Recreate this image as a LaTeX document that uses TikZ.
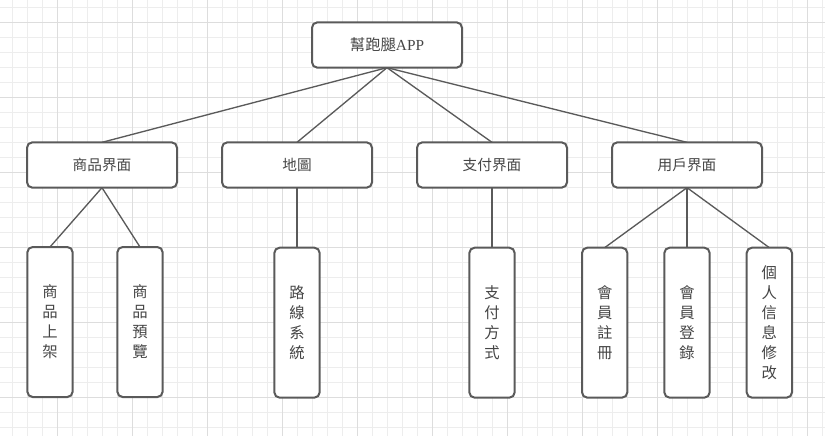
\documentclass[tikz,border=0pt]{standalone}
\usepackage{fontspec}
\setmainfont{Liberation Serif}
\newfontfamily\cjk{Noto Sans CJK TC}
\usetikzlibrary{positioning}
\definecolor{boxline}{HTML}{5A5A5A}
\definecolor{txt}{HTML}{454545}
\definecolor{gridminor}{HTML}{EDEDED}
\definecolor{gridmajor}{HTML}{DDDDDD}

\begin{document}
\begin{tikzpicture}[x=0.75pt, y=-0.75pt,
    box/.style={draw=boxline, line width=1.5pt, rounded corners=4pt, fill=white, inner sep=0pt, outer sep=0pt, text=txt},
    midbox/.style={box, minimum width=112.5pt, minimum height=34pt, font=\cjk\fontsize{11}{13}\selectfont},
    leafbox/.style={box, minimum width=34pt, minimum height=112.5pt, align=center, font=\cjk\fontsize{11.5}{15}\selectfont},
    link/.style={draw=boxline, line width=1pt}]
  \useasboundingbox (0,0) rectangle (825,436);
  % grid paper
  \foreach \gx in {12.5,27.5,...,822.5} \draw[gridminor, line width=0.75pt] (\gx,0) -- (\gx,436);
  \foreach \gy in {7,22,...,436} \draw[gridminor, line width=0.75pt] (0,\gy) -- (825,\gy);
  \foreach \gx in {57.5,132.5,...,822.5} \draw[gridmajor, line width=0.75pt] (\gx,0) -- (\gx,436);
  \foreach \gy in {22,97,...,436} \draw[gridmajor, line width=0.75pt] (0,\gy) -- (825,\gy);

  % root
  \node[midbox, font=\fontsize{11.5}{13}\selectfont] (app) at (387,45) {{\cjk 幫跑腿}APP};

  % second level
  \node[midbox] (shop) at (102,165) {商品界面};
  \node[midbox, right=33.75pt of shop] (map) {地圖};
  \node[midbox, right=33.75pt of map] (pay) {支付界面};
  \node[midbox, right=33.75pt of pay] (user) {用戶界面};

  % leaves
  \node[leafbox] (upload) at (50,322) {商\\品\\上\\架};
  \node[leafbox] (preview) at (140,322) {商\\品\\預\\覽};
  \node[leafbox, below=45pt of map] (route) {路\\線\\系\\統};
  \node[leafbox, below=45pt of pay] (method) {支\\付\\方\\式};
  \node[leafbox, below=45pt of user] (login) {會\\員\\登\\錄};
  \node[leafbox, left=27.75pt of login] (register) {會\\員\\註\\冊};
  \node[leafbox, right=27.75pt of login] (profile) {個\\人\\信\\息\\修\\改};

  % connectors
  \foreach \m in {shop,map,pay,user}
    \draw[link] (app.south) -- (\m.north);
  \foreach \l in {upload,preview}
    \draw[link] (shop.south) -- (\l.north);
  \draw[link] (map.south) -- (route.north);
  \draw[link] (pay.south) -- (method.north);
  \foreach \l in {register,login,profile}
    \draw[link] (user.south) -- (\l.north);
\end{tikzpicture}
\end{document}
